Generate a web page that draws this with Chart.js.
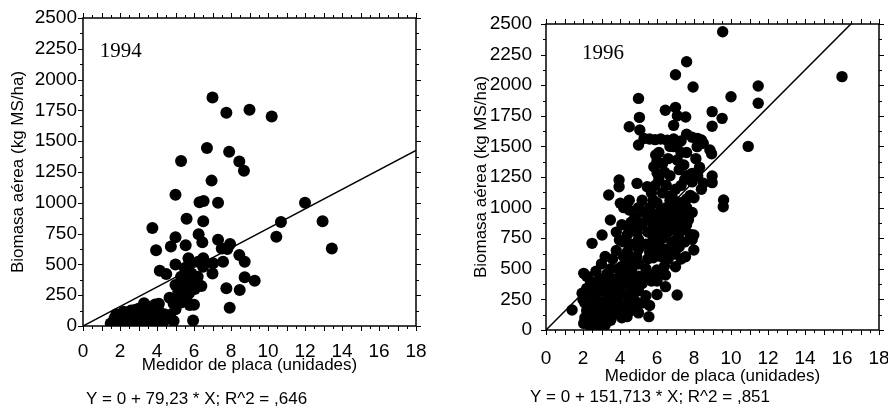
<!DOCTYPE html>
<html>
<head>
<meta charset="utf-8">
<script src="https://cdn.jsdelivr.net/npm/chart.js@4.4.1/dist/chart.umd.min.js"></script>
<style>
  html, body { margin: 0; padding: 0; background: #fff; }
  #wrap { position: relative; width: 888px; height: 410px; }
  .box { position: absolute; top: 0; width: 444px; height: 410px; }
</style>
</head>
<body>
<div id="wrap">
  <div class="box" style="left:0"><canvas id="c94" width="444" height="410"></canvas></div>
  <div class="box" style="left:444px"><canvas id="c96" width="444" height="410"></canvas></div>
</div>
<script>
const x1994 = [
  7.0, 7.75, 9.0, 10.2, 6.7, 7.9, 8.45, 8.7, 5.3, 6.95,
  5.0, 6.3, 6.52, 7.3, 12.0, 10.7, 12.95, 10.45, 13.45, 5.6,
  6.5, 3.75, 3.95, 5.0, 4.75, 5.55, 6.25, 6.45, 7.3, 7.5,
  7.95, 7.8, 8.45, 8.74, 8.74, 9.28, 8.47, 7.75, 7.93, 5.95,
  4.15, 4.5, 5.0, 5.7, 5.75, 6.23, 6.49, 6.5, 7.03, 7.0,
  7.57, 6.2, 6.0, 6.4, 6.04, 5.0, 5.2, 5.4, 5.2, 5.5,
  4.86, 4.68, 5.0, 4.7, 4.4, 5.77, 6.0, 5.6, 5.3, 5.6,
  5.86, 5.95, 5.73, 5.59, 5.45, 5.15, 4.9, 5.3, 5.5, 4.6, 4.9,
  1.5, 1.7, 1.9, 2.0, 2.1, 2.2, 2.3, 2.4, 2.5, 2.6,
  2.7, 2.8, 2.9, 3.0, 3.05, 3.1, 3.2, 3.3, 3.4, 3.5,
  3.5, 3.6, 3.7, 3.8, 3.9, 4.0, 4.05, 4.2, 4.3, 4.4,
  3.3, 2.4, 2.8, 1.8, 3.6, 2.2, 3.0, 4.1
];
const y1994 = [
  1855, 1730, 1755, 1700, 1445, 1415, 1335, 1260, 1340, 1180,
  1065, 1005, 1015, 1000, 1000, 845, 850, 725, 630, 870,
  850, 795, 615, 720, 645, 655, 745, 680, 700, 630,
  665, 625, 576, 522, 395, 368, 292, 306, 149, 45,
  449, 422, 500, 550, 510, 522, 481, 549, 509, 427,
  522, 400, 346, 325, 300, 333, 325, 292, 252, 238,
  211, 230, 135, 89, 76, 170, 172, 211, 400, 441,
  427, 319, 265, 380, 350, 280, 180, 190, 470, 60, 40,
  20, 60, 30, 85, 10, 115, 50, 95, 20, 125,
  70, 30, 105, 140, 60, 10, 110, 40, 165, 80,
  20, 135, 50, 100, 175, 30, 145, 60, 20, 95,
  185, 5, 130, 95, 5, 35, 90, 180
];

// 1996 - right panel, listed roughly band by band from the top
const x1996 = [
  9.55, 7.6, 7.0, 16.0, 7.95, 11.47, 10.0, 5.0, 11.47, 7.0, 6.45, 8.98, 7.1, 7.55, 5.05, 9.52, 6.9, 8.98, 4.5, 5.07, 10.93,
  5.0, 5.3, 5.6, 5.9, 6.2, 6.55, 6.9, 7.3, 7.6, 7.9, 8.2, 8.4, 7.1, 6.7,
  5.93, 5.83, 6.0, 6.01, 6.9, 7.09, 7.45, 7.9, 8.17, 8.5, 8.86, 8.95, 7.6, 6.4, 7.2, 8.3, 6.7,
  6.6, 6.1, 7.3, 6.3, 8.1, 7.5, 5.9, 8.2,
  3.95, 3.95, 4.92, 5.47, 8.98, 8.98, 6.1, 7.6, 7.9, 6.5, 7.3, 8.4, 7.0, 5.7, 6.3, 3.39, 6.8, 7.8, 8.5,
  9.6, 9.58, 4.02, 8.0, 4.5, 5.2, 6.0, 7.3, 5.0, 5.6, 6.5, 7.1, 7.6, 4.5, 6.2, 6.9, 5.3, 7.9, 5.9, 6.6, 7.4, 4.8, 6.3, 7.0, 3.48, 5.5, 6.0, 7.7,
  4.2, 5.8, 6.7, 7.6, 5.5, 7.0,
  4.6, 6.8, 5.2, 6.4, 7.2, 7.6, 4.5, 5.8, 6.1, 7.0, 7.4, 4.9, 5.5, 6.6, 7.99, 4.4, 7.8, 3.03, 5.8, 6.3, 7.1, 3.97, 5.0, 6.8, 7.5, 2.49, 4.6, 5.4, 6.1,
  4.1, 5.0, 6.0, 7.4, 3.8, 6.0, 7.2, 4.2, 5.7, 7.0, 7.9,
  7.2, 7.99, 5.0, 6.5, 4.4, 5.6, 6.9, 7.54, 3.2, 4.9, 6.2, 3.6, 5.5, 7.3, 4.5, 3.0, 5.0, 4.1, 7.0, 3.5, 5.4, 6.0,
  4.8, 3.8, 6.0, 7.0, 4.2, 5.8, 6.6, 4.7, 6.4,
  2.7, 4.6, 2.04, 3.3, 6.46, 4.0, 5.0, 2.9, 3.6, 4.5, 2.4, 3.2, 5.7, 4.2, 5.2, 2.8, 3.8, 6.46, 2.2, 3.4, 4.6, 3.0, 4.0, 5.0, 1.95, 2.6, 3.6,
  2.2, 3.9, 4.3, 5.4, 5.9, 2.6, 3.6, 4.9, 6.0, 2.4, 3.4, 4.5,
  7.09, 6.0, 2.3, 4.4, 5.4, 3.3, 3.9, 2.8, 4.8, 2.1, 3.5, 5.2, 3.0, 4.2, 5.6, 2.5, 3.8, 1.41, 2.2, 3.3, 4.6, 2.9, 4.0, 5.0, 2.4, 3.6, 4.38, 5.56, 2.1, 3.1, 2.7, 3.5, 2.04, 3.0, 2.5, 2.4,
  2.0, 2.6, 4.6, 2.7, 3.2, 4.4, 2.6, 3.4, 3.0, 4.1, 2.3, 3.2, 2.8, 4.8
];
const y1996 = [
  2437, 2192, 2085, 2070, 1985, 1993, 1906, 1892, 1852, 1819, 1795, 1784, 1750, 1740, 1737, 1729, 1672, 1665, 1660, 1634, 1500,
  1511, 1565, 1560, 1555, 1560, 1550, 1560, 1545, 1600, 1575, 1565, 1552, 1520, 1500,
  1430, 1334, 1380, 1280, 1498, 1389, 1348, 1280, 1498, 1525, 1470, 1440, 1450, 1290, 1310, 1330, 1260,
  1400, 1450, 1450, 1360, 1400, 1230, 1180, 1260,
  1225, 1170, 1198, 1171, 1258, 1204, 1230, 1260, 1210, 1180, 1180, 1150, 1150, 1120, 1120, 1103, 1100, 1100, 1200,
  1062, 1007, 1035, 1080, 1060, 1060, 1040, 1040, 1000, 1000, 1000, 1000, 1000, 980, 980, 980, 960, 960, 940, 940, 940, 920, 920, 920, 899, 900, 900, 900,
  1000, 1060, 1060, 1070, 950, 1050,
  880, 880, 860, 860, 860, 860, 840, 840, 820, 820, 820, 800, 800, 800, 776, 780, 780, 776, 750, 750, 750, 735, 740, 720, 720, 708, 700, 700, 700,
  860, 880, 880, 880, 800, 790, 790, 720, 700, 700, 740,
  680, 654, 660, 660, 640, 640, 620, 599, 600, 600, 600, 580, 580, 580, 560, 540, 540, 520, 517, 500, 500, 490,
  700, 650, 650, 650, 600, 590, 580, 520, 520,
  480, 480, 463, 460, 449, 440, 440, 420, 420, 420, 400, 400, 400, 380, 380, 360, 360, 354, 340, 340, 340, 320, 320, 320, 300, 300, 300,
  440, 500, 460, 450, 460, 380, 380, 380, 400, 320, 300, 300,
  286, 290, 280, 280, 280, 260, 260, 240, 240, 220, 220, 220, 200, 200, 200, 180, 180, 163, 160, 160, 160, 140, 140, 140, 120, 120, 109, 109, 100, 100, 80, 80, 54, 60, 40, 27,
  250, 260, 260, 200, 180, 180, 140, 140, 110, 100, 70, 40, 20, 180
];

// fitted slopes (Y = 0 + b*X)
const slope1994 = 79.23;
const slope1996 = 151.713;
const xTitle = 'Medidor de placa (unidades)';
const yTitle = 'Biomasa aérea (kg MS/ha)';

const SANS = '"Liberation Sans", Arial, sans-serif';

// frame box + outward ticks on all four sides, year tag and equation
const frameTicks = {
  id: 'frameTicks',
  afterDatasetsDraw(chart) {
    const {ctx, chartArea: a, scales: {x, y}} = chart;
    const o = chart.options.plugins.frameTicks;
    ctx.save();
    ctx.strokeStyle = '#000';
    ctx.lineWidth = 1.5;
    ctx.strokeRect(a.left, a.top, a.right - a.left, a.bottom - a.top);
    ctx.lineWidth = 1;
    ctx.beginPath();
    for (let v = 0; v <= 18; v += 0.5) {
      const px = Math.round(x.getPixelForValue(v)) + 0.5;
      const len = v % 1 === 0 ? 5 : 3;
      ctx.moveTo(px, a.bottom); ctx.lineTo(px, a.bottom + len);
      ctx.moveTo(px, a.top); ctx.lineTo(px, a.top - len);
    }
    for (let v = 0; v <= 2500; v += 125) {
      const py = Math.round(y.getPixelForValue(v)) + 0.5;
      const len = v % 250 === 0 ? 5 : 3;
      ctx.moveTo(a.left, py); ctx.lineTo(a.left - len, py);
      ctx.moveTo(a.right, py); ctx.lineTo(a.right + len, py);
    }
    ctx.stroke();

    ctx.fillStyle = '#000';
    ctx.textAlign = 'left';
    ctx.textBaseline = 'middle';
    ctx.font = '21px "Liberation Serif", "Times New Roman", serif';
    ctx.fillText(o.year, x.getPixelForValue(o.yearAt[0]), y.getPixelForValue(o.yearAt[1]));
    ctx.font = '17px ' + SANS;
    ctx.fillText(o.equation, o.eqX, o.eqY);
    ctx.restore();
  }
};

function makeChart(id, xs, ys, slope, o) {
  const pts = xs.map((v, i) => ({x: v, y: ys[i]}));
  return new Chart(document.getElementById(id), {
    type: 'scatter',
    data: {
      datasets: [
        {data: pts, backgroundColor: '#000', borderColor: '#000', borderWidth: 0,
         pointRadius: o.r, pointHoverRadius: o.r},
        {type: 'line', data: [{x: 0, y: 0}, {x: 18, y: slope * 18}],
         borderColor: '#000', borderWidth: 1.5, pointRadius: 0, fill: false}
      ]
    },
    options: {
      responsive: false,
      animation: false,
      events: [],
      layout: {padding: o.pad},
      plugins: {
        legend: {display: false},
        tooltip: {enabled: false},
        frameTicks: {year: o.year, yearAt: o.yearAt, equation: o.equation, eqX: 86, eqY: o.eqY}
      },
      scales: {
        x: {
          type: 'linear', min: 0, max: 18,
          grid: {display: false, drawTicks: false},
          border: {display: false},
          ticks: {stepSize: 2, color: '#000', padding: o.xtp, maxRotation: 0,
                  font: {family: SANS, size: 19}, callback: v => String(v)},
          title: {display: true, text: xTitle, color: '#000',
                  font: {family: SANS, size: 17}, padding: {top: 0, bottom: o.xtb}},
          afterFit: s => { s.height = o.xh; s.paddingLeft = 0; s.paddingRight = 0; }
        },
        y: {
          type: 'linear', min: 0, max: 2500,
          grid: {display: false, drawTicks: false},
          border: {display: false},
          ticks: {stepSize: 250, color: '#000', padding: o.ytp,
                  font: {family: SANS, size: 19}, callback: v => String(v)},
          title: {display: true, text: yTitle, color: '#000',
                  font: {family: SANS, size: 17}, padding: {top: o.ytt, bottom: 0}},
          afterFit: s => { s.width = o.yw; s.paddingTop = 0; s.paddingBottom = 0; }
        }
      }
    },
    plugins: [frameTicks]
  });
}

makeChart('c94', x1994, y1994, slope1994, {
  r: 6, pad: {top: 18, right: 28, left: 0, bottom: 0},
  xh: 84, yw: 83, xtp: 14, xtb: 34, ytp: 6, ytt: 8,
  year: '1994', yearAt: [0.9, 2226],
  equation: 'Y = 0 + 79,23 * X; R^2 = ,646', eqY: 399
});

makeChart('c96', x1996, y1996, slope1996, {
  r: 5.7, pad: {top: 24, right: 9, left: 0, bottom: 0},
  xh: 80, yw: 102, xtp: 17, xtb: 23, ytp: 14, ytt: 27,
  year: '1996', yearAt: [1.95, 2260],
  equation: 'Y = 0 + 151,713 * X; R^2 = ,851', eqY: 397
});
</script>
</body>
</html>
